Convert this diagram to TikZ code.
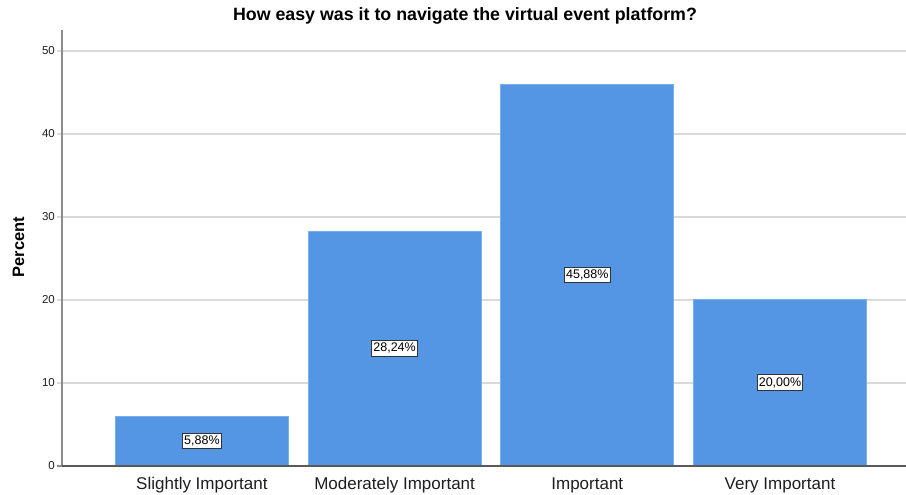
\documentclass[tikz,border=0pt]{standalone}
\usepackage{fontspec}
\setmainfont{Liberation Sans}
\definecolor{barblue}{RGB}{85,150,228}
\definecolor{baredge}{RGB}{120,175,240}
\definecolor{gridgray}{RGB}{218,218,218}
\definecolor{axisgray}{RGB}{140,140,140}
\definecolor{textdark}{RGB}{30,30,30}
\tikzset{
  gridline/.style={draw=gridgray, line width=1.6pt},
  axisline/.style={draw=axisgray, line width=1.2pt},
  baseline/.style={draw=black!65, line width=1.4pt},
  bar/.style={draw=baredge, line width=0.8pt, fill=barblue, inner sep=0pt, anchor=south west, minimum width=173pt},
  ticklab/.style={font=\fontsize{11.5}{13}\selectfont, text=textdark, anchor=east, inner sep=0pt},
  catlab/.style={font=\fontsize{17}{19}\selectfont, text=textdark, inner sep=0pt},
  vallab/.style={draw=black!80, line width=0.9pt, fill=white, font=\fontsize{12.5}{14}\selectfont, inner xsep=1.5pt, inner ysep=2.5pt, text=black},
}
\begin{document}
\begin{tikzpicture}[x=1pt, y=-1pt]
\useasboundingbox (0,0) rectangle (906,495);
\fill[white] (0,0) rectangle (906,495);
% horizontal gridlines with their small ticks and labels
\foreach \v in {10,20,30,40,50}{
  \draw[gridline] (57,{466-8.3*\v}) -- (906,{466-8.3*\v});
  \node[ticklab] (tick\v) at (55,{466-8.3*\v}) {\v};
}
\node[ticklab] (tick0) at (55,466) {0};
% axes
\draw[axisline] (62,30) -- (62,466);
\draw[axisline] (57,466) -- (62,466);
% bars with value labels and category names
\foreach \i/\v/\cat/\lab in {1/5.88/{Slightly Important}/{5,88\%},
                             2/28.24/{Moderately Important}/{28,24\%},
                             3/45.88/{Important}/{45,88\%},
                             4/20.00/{Very Important}/{20,00\%}}{
  \node[bar, minimum height={8.3pt*\v}] (bar\i) at ({115+192.7*(\i-1)},466) {};
  \node[vallab] (val\i) at (bar\i.center) {\lab};
  \node[catlab] (cat\i) at ([yshift=-19pt]bar\i.south) {\cat};
}
\draw[baseline] (62,466) -- (906,466);
% axis title and chart title
\node[font=\bfseries\fontsize{16.5}{19}\selectfont, rotate=90, text=black, inner sep=0pt] (ytitle) at (18.5,247) {Percent};
\node[font=\bfseries\fontsize{17.8}{20}\selectfont, text=black, inner sep=0pt] (title) at (465,16) {How easy was it to navigate the virtual event platform?};
\end{tikzpicture}
\end{document}
